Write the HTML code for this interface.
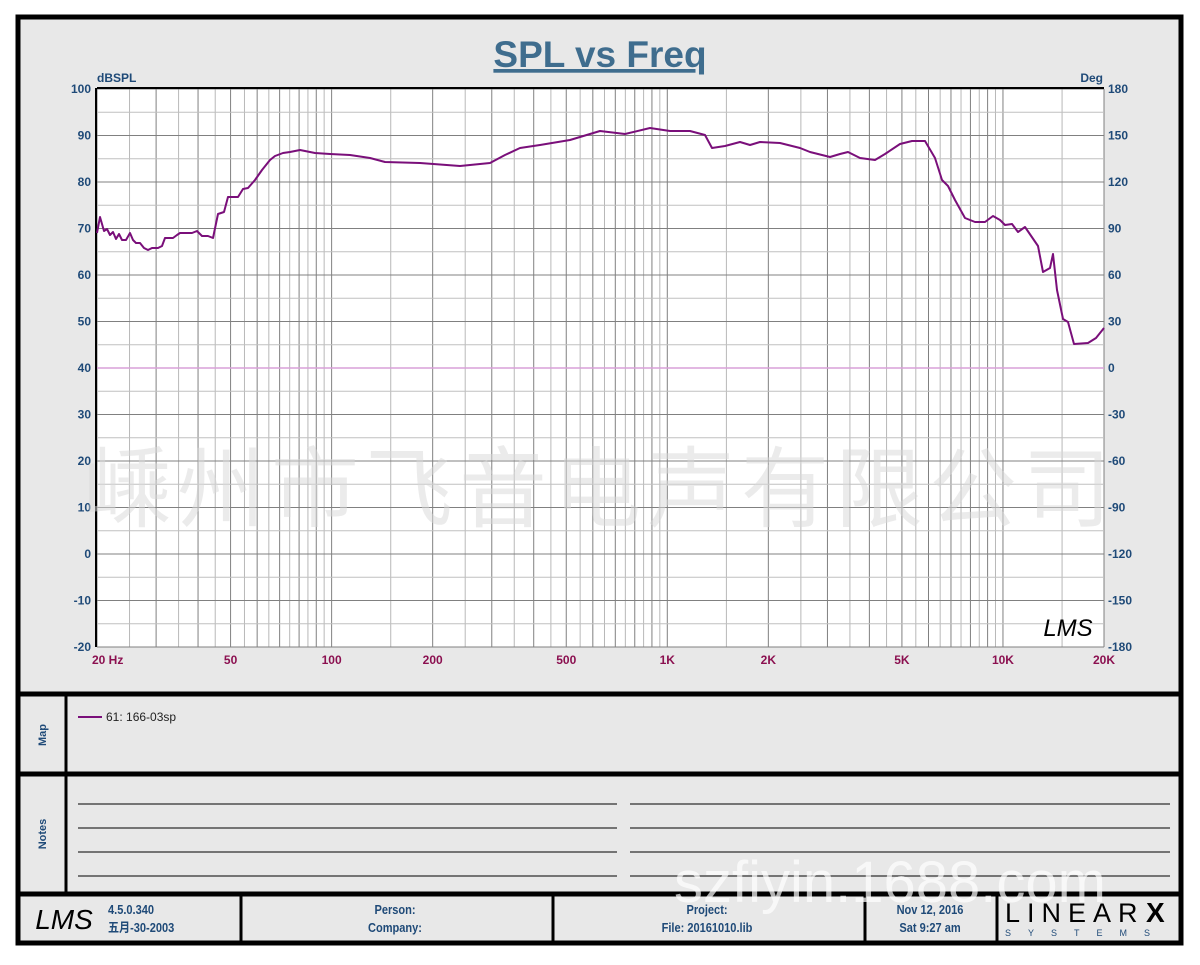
<!DOCTYPE html>
<html><head><meta charset="utf-8"><style>
body{margin:0;background:#fff}
svg text{font-family:"Liberation Sans","Noto Sans CJK SC",sans-serif}
</style></head><body>
<svg width="1200" height="960" viewBox="0 0 1200 960" xmlns="http://www.w3.org/2000/svg">
<rect x="0" y="0" width="1200" height="960" fill="#fff"/>
<rect x="18" y="17" width="1163" height="926" fill="#e8e8e8" stroke="#000" stroke-width="5"/>
<text x="600" y="67" font-size="37" font-weight="bold" fill="#3f6d8e" text-anchor="middle" text-decoration="underline">SPL vs Freq</text>
<rect x="97" y="89" width="1007" height="558" fill="#fff"/>
<g id="grid"></g>
<line x1="97" y1="368" x2="1104" y2="368" stroke="#d9a0d9" stroke-width="1.5"/>
<line x1="97" y1="88" x2="1104" y2="88" stroke="#000" stroke-width="2"/>
<line x1="96" y1="88" x2="96" y2="647" stroke="#000" stroke-width="2"/>
<g font-size="12" font-weight="bold" fill="#1f4a78">
<text x="97" y="82">dBSPL</text>
<text x="1103" y="82" text-anchor="end">Deg</text>
</g>
<g id="labels" font-size="12" font-weight="bold"></g>
<text x="600" y="520" font-size="88" fill="#d8d8d8" fill-opacity="0.5" text-anchor="middle" letter-spacing="6">嵊州市飞音电声有限公司</text>
<text x="1068" y="636" font-size="24" font-style="italic" fill="#000" text-anchor="middle" font-family="Liberation Serif,serif">LMS</text>
<polyline fill="none" stroke="#7a0f7a" stroke-width="2" stroke-linejoin="round" points="97,233 100,217 104,231 107,229 110,235 113,232 116,239 119,234 122,240 126,240 130,233 133,240 136,243 140,243 144,248 148,250 152,248 158,248 162,246 165,238 173,238 177,235 180,233 192,233 197,231 202,236 208,236 213,238 218,214 224,212 228,197 238,197 243,189 248,188 255,180 262,170 270,160 275,156 283,153 290,152 300,150 315,153 330,154 350,155 370,158 385,162 420,163 460,166 490,163 505,155 520,148 540,145 570,140 600,131 625,134 650,128 670,131 690,131 705,135 712,148 725,146 740,142 750,145 760,142 780,143 800,148 810,152 830,157 840,154 848,152 860,158 875,160 885,154 900,144 912,141 925,141 935,158 942,180 948,186 955,200 965,218 975,222 985,222 993,216 1000,220 1005,225 1012,224 1018,232 1025,227 1038,246 1043,272 1050,268 1053,254 1057,290 1063,319 1068,322 1074,344 1088,343 1096,338 1104,328"/>
<g stroke="#000" stroke-width="5">
<line x1="18" y1="694" x2="1181" y2="694"/>
<line x1="18" y1="774" x2="1181" y2="774"/>
<line x1="18" y1="894" x2="1181" y2="894"/>
</g>
<g stroke="#000" stroke-width="3">
<line x1="66" y1="694" x2="66" y2="894"/>
<line x1="241" y1="894" x2="241" y2="943"/>
<line x1="553" y1="894" x2="553" y2="943"/>
<line x1="865" y1="894" x2="865" y2="943"/>
<line x1="997" y1="894" x2="997" y2="943"/>
</g>
<g font-size="11" font-weight="bold" fill="#1f4a78">
<text transform="translate(46,735) rotate(-90)" text-anchor="middle">Map</text>
<text transform="translate(46,834) rotate(-90)" text-anchor="middle">Notes</text>
</g>
<line x1="78" y1="717" x2="102" y2="717" stroke="#7a0f7a" stroke-width="2"/>
<text x="106" y="721" font-size="12" fill="#222">61: 166-03sp</text>
<g stroke="#000" stroke-width="1">
<line x1="78" y1="804" x2="617" y2="804"/><line x1="630" y1="804" x2="1170" y2="804"/>
<line x1="78" y1="828" x2="617" y2="828"/><line x1="630" y1="828" x2="1170" y2="828"/>
<line x1="78" y1="852" x2="617" y2="852"/><line x1="630" y1="852" x2="1170" y2="852"/>
<line x1="78" y1="876" x2="617" y2="876"/><line x1="630" y1="876" x2="1170" y2="876"/>
</g>
<text x="890" y="902" font-size="58" fill="#ffffff" fill-opacity="0.7" text-anchor="middle">szfiyin.1688.com</text>
<text x="64" y="929" font-size="28" font-style="italic" fill="#000" text-anchor="middle" font-family="Liberation Serif,serif">LMS</text>
<g font-size="13" font-weight="bold" fill="#1f4a78">
<g transform="translate(108,0) scale(0.85,1)"><text x="0" y="914">4.5.0.340</text><text x="0" y="932">五月-30-2003</text></g>
<g transform="translate(395,0) scale(0.85,1)"><text x="0" y="914" text-anchor="middle">Person:</text><text x="0" y="932" text-anchor="middle">Company:</text></g>
<g transform="translate(707,0) scale(0.85,1)"><text x="0" y="914" text-anchor="middle">Project:</text><text x="0" y="932" text-anchor="middle">File: 20161010.lib</text></g>
<g transform="translate(930,0) scale(0.85,1)"><text x="0" y="914" text-anchor="middle">Nov 12, 2016</text><text x="0" y="932" text-anchor="middle">Sat  9:27 am</text></g>
</g>
<text x="1005" y="922" font-size="27" font-family="Liberation Serif,serif" fill="#000" letter-spacing="7">LINEAR</text>
<text x="1146" y="922" font-size="28" font-weight="bold" fill="#000">X</text>
<text x="1005" y="936" font-size="9" fill="#1f4a78" letter-spacing="17">SYSTEMS</text>
<script>
var ns="http://www.w3.org/2000/svg",g=document.getElementById('grid'),L=document.getElementById('labels');
function ln(x1,y1,x2,y2,c){var l=document.createElementNS(ns,'line');l.setAttribute('x1',x1);l.setAttribute('y1',y1);l.setAttribute('x2',x2);l.setAttribute('y2',y2);l.setAttribute('stroke',c);l.setAttribute('stroke-width',1);g.appendChild(l);}
function tx(x,y,s,c,a){var t=document.createElementNS(ns,'text');t.setAttribute('x',x);t.setAttribute('y',y);t.setAttribute('fill',c);t.setAttribute('text-anchor',a);t.textContent=s;L.appendChild(t);}
function X(f){return 97+Math.log10(f/20)*335.67;}
for(var d=10;d<=10000;d*=10){for(var m=1;m<10;m+=0.5){var f=d*m;if(f<20||f>20000)continue;var x=X(f);ln(x,89,x,647,(m%1==0)?'#808080':'#b8b8b8');}}
for(var i=0;i<=24;i++){var y=89+i*23.25;ln(97,y,1104,y,(i%2==0)?'#808080':'#c0c0c0');}
for(var i=0;i<=12;i++){var y=89+i*46.5;tx(91,y+4,String(100-i*10),'#1f4a78','end');tx(1108,y+4,String(180-i*30),'#1f4a78','start');}
var fl=[[20,'20  Hz'],[50,'50'],[100,'100'],[200,'200'],[500,'500'],[1000,'1K'],[2000,'2K'],[5000,'5K'],[10000,'10K'],[20000,'20K']];
fl.forEach(function(p){var x=X(p[0]);var a='middle';if(p[0]==20){x=92;a='start';}if(p[0]==20000){x=1104;}tx(x,664,p[1],'#8b1050',a);});
</script>
</svg>
</body></html>
